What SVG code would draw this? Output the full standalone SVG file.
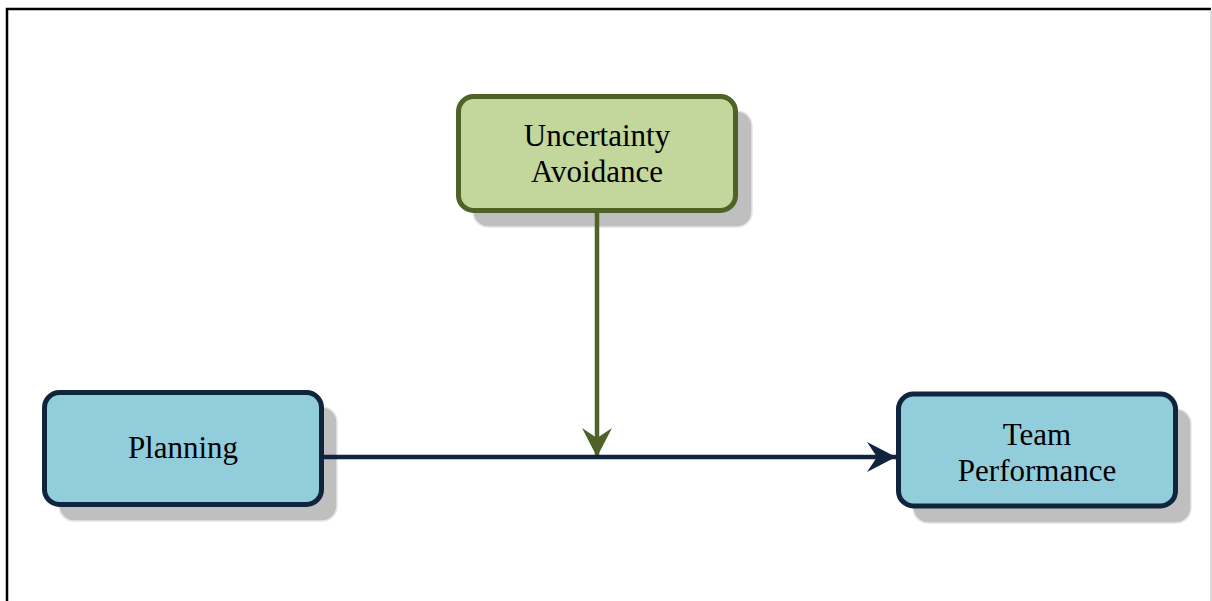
<svg xmlns="http://www.w3.org/2000/svg" width="1212" height="601" viewBox="0 0 1212 601">
<style>
.shadow{fill:#bfbfbf;stroke:#e6e6e6;stroke-width:1.5}
.green{fill:#c3d69b;stroke:#4f6228;stroke-width:5}
.blue{fill:#92cddc;stroke:#10243e;stroke-width:5}
text{font-family:"Liberation Serif","Times New Roman",serif;font-size:31px;fill:#000;text-anchor:middle}
</style>
<defs>
<marker id="arrG" markerUnits="userSpaceOnUse" markerWidth="32" markerHeight="32" viewBox="0 0 32 32" refX="30" refY="16" orient="auto">
<path d="M1,1 L30,16 L1,31 L11,16 Z" fill="#4f6228"/>
</marker>
<marker id="arrB" markerUnits="userSpaceOnUse" markerWidth="32" markerHeight="32" viewBox="0 0 32 32" refX="30" refY="16" orient="auto">
<path d="M1,1 L30,16 L1,31 L11,16 Z" fill="#10243e"/>
</marker>
</defs>
<rect x="0" y="0" width="1212" height="601" fill="#fff"/>
<path d="M7,601 V9 H1211" fill="none" stroke="#000" stroke-width="2.5"/>
<line x1="1211" y1="10" x2="1211" y2="601" stroke="#d0d0d0" stroke-width="1.5"/>
<g id="node-uncertainty">
<rect class="shadow" x="473" y="111" width="279" height="116" rx="15"/>
<rect class="green" x="458.5" y="96.5" width="277" height="114" rx="15"/>
<text x="597" y="146">Uncertainty</text>
<text x="597" y="182">Avoidance</text>
</g>
<g id="node-planning">
<rect class="shadow" x="59" y="407" width="278" height="114" rx="15"/>
<rect class="blue" x="44.5" y="392.5" width="277" height="112" rx="15"/>
<text x="183" y="458">Planning</text>
</g>
<g id="node-team">
<rect class="shadow" x="913" y="409" width="278" height="114" rx="15"/>
<rect class="blue" x="898.5" y="394" width="277" height="112" rx="15"/>
<text x="1037" y="445">Team</text>
<text x="1037" y="481">Performance</text>
</g>
<g id="connectors">
<line x1="597" y1="213" x2="597" y2="457" stroke="#4f6228" stroke-width="4.5" marker-end="url(#arrG)"/>
<line x1="324" y1="457" x2="896" y2="457" stroke="#10243e" stroke-width="4.5" marker-end="url(#arrB)"/>
</g>
</svg>
